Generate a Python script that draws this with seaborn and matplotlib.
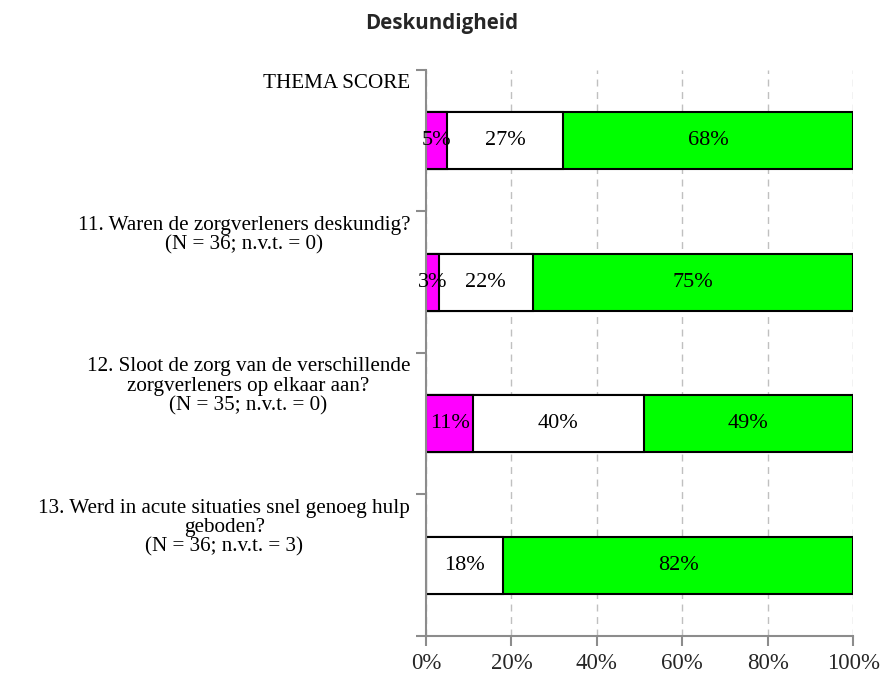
import matplotlib
matplotlib.use("Agg")
import matplotlib.pyplot as plt
import matplotlib.transforms as mtransforms
import seaborn as sns
import pandas as pd
import numpy as np

title = "Deskundigheid"
categories = [
    "THEMA SCORE",
    "11. Waren de zorgverleners deskundig?\n(N = 36; n.v.t. = 0)",
    "12. Sloot de zorg van de verschillende\nzorgverleners op elkaar aan?\n(N = 35; n.v.t. = 0)",
    "13. Werd in acute situaties snel genoeg hulp\ngeboden?\n(N = 36; n.v.t. = 3)",
]
keys = ["T", "Q11", "Q12", "Q13"]
negative = [5, 3, 11, 0]
neutral = [27, 22, 40, 18]
positive = [68, 75, 49, 82]
xticks = [0, 20, 40, 60, 80, 100]
xticklabels = ["0%", "20%", "40%", "60%", "80%", "100%"]

sns.set_theme(style="white")
plt.rcParams["font.family"] = ["Liberation Serif", "DejaVu Serif"]

fig = plt.figure(figsize=(8.84, 6.75), dpi=100)
ax = fig.add_axes([0.482, 0.0578, 0.483, 0.8385])

neg = np.array(negative)
neu = np.array(neutral)
pos = np.array(positive)
df = pd.DataFrame({
    "cat": keys,
    "c1": neg,
    "c2": neg + neu,
    "c3": neg + neu + pos,
})

series = [("c3", "#00FF00"), ("c2", "#FFFFFF"), ("c1", "#FF00FF")]
for col, colr in series:
    sns.barplot(data=df, y="cat", x=col, orient="h", order=keys, color=colr,
                width=0.4, edgecolor="black", linewidth=1.5, ax=ax, zorder=3,
                saturation=1)

# value labels
for i in range(len(keys)):
    starts = [0, neg[i], neg[i] + neu[i]]
    vals = [neg[i], neu[i], pos[i]]
    for s, v in zip(starts, vals):
        if v > 0:
            ax.text(s + v / 2, i, f"{v}%", ha="center", va="center",
                    fontsize=16, color="black", zorder=5)

ax.set_xlim(0, 100)
ax.set_ylim(len(keys) - 0.5, -0.5)
ax.set_xticks(xticks)
ax.set_xticklabels(xticklabels, fontsize=16.5)
ax.set_yticks(np.arange(-0.5, len(keys), 1.0))
ax.set_yticklabels([])
ax.set_xlabel("")
ax.set_ylabel("")

ax.grid(axis="x", color="#c0c0c0", linestyle=(0, (5, 4)), linewidth=1.0, zorder=0)
ax.set_axisbelow(True)
for s in ["top", "right"]:
    ax.spines[s].set_visible(False)
for s in ["left", "bottom"]:
    ax.spines[s].set_color("#8c8c8c")
    ax.spines[s].set_linewidth(1.5)
    ax.spines[s].set_zorder(4)
ax.tick_params(axis="both", which="major", direction="out", length=7,
               width=1.5, color="#8c8c8c", left=True, bottom=True)
ax.tick_params(axis="x", pad=5)

trans = mtransforms.blended_transform_factory(ax.transAxes, ax.transData)
for i, lab in enumerate(categories):
    ax.text(-0.037, i - 0.5 + 0.03, lab, transform=trans, ha="right", va="top",
            multialignment="center", fontsize=15.2, linespacing=1.02, color="black")

fig.text(0.5, 0.965, title, ha="center", va="center", fontsize=14.8,
         fontweight="bold", family=["Open Sans", "DejaVu Sans"])

fig.savefig("out.png", dpi=100)
